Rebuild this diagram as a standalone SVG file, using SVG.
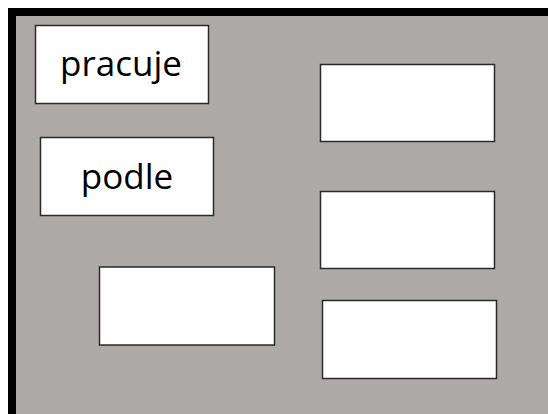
<svg xmlns="http://www.w3.org/2000/svg" width="548" height="414" viewBox="0 0 548 414">
<style>
.box{fill:#ffffff;stroke:#2a2a2a;stroke-width:1.5}
.lbl{font-family:"Open Sans","Liberation Sans",sans-serif;font-size:35px;fill:#000000;text-anchor:middle}
</style>
<rect x="0" y="0" width="548" height="414" fill="#ffffff"/>
<rect x="8" y="8" width="540" height="406" fill="#000000"/>
<rect x="16" y="16" width="532" height="398" fill="#aeaaa9"/>
<g id="node-pracuje">
<rect class="box" x="35.5" y="25.5" width="173" height="78"/>
<text class="lbl" x="121" y="76">pracuje</text>
</g>
<g id="node-podle">
<rect class="box" x="40.5" y="137.5" width="173" height="78"/>
<text class="lbl" x="127" y="189">podle</text>
</g>
<g id="node-blank1">
<rect class="box" x="320.5" y="64.5" width="174" height="77"/>
</g>
<g id="node-blank2">
<rect class="box" x="320.5" y="191.5" width="174" height="77"/>
</g>
<g id="node-blank3">
<rect class="box" x="99.5" y="267" width="175" height="78"/>
</g>
<g id="node-blank4">
<rect class="box" x="322.5" y="300.5" width="174" height="78"/>
</g>
<g id="connectors"></g>
</svg>
